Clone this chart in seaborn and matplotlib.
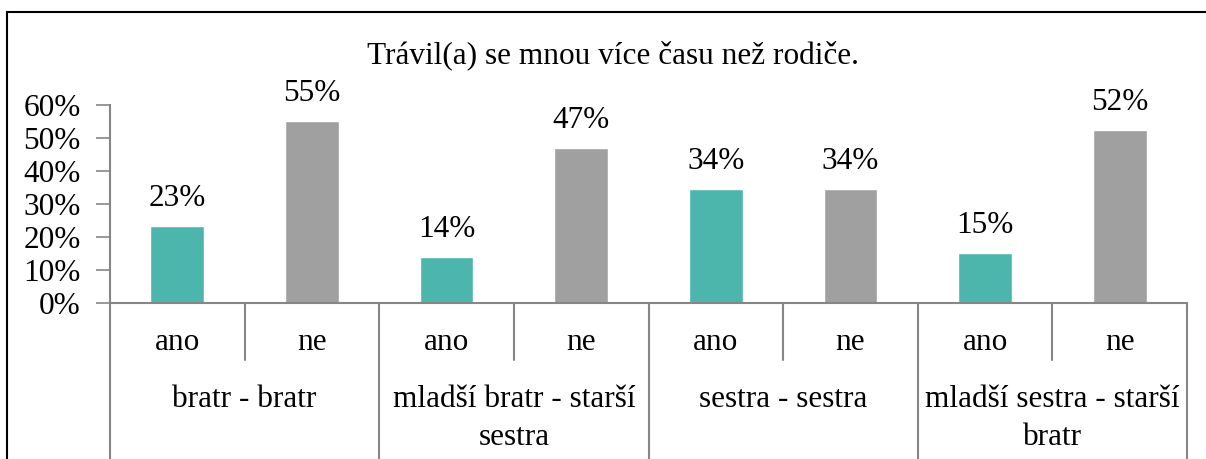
import matplotlib.pyplot as plt
import matplotlib.transforms as mtransforms
from matplotlib.patches import Rectangle
import seaborn as sns
import pandas as pd

# Data
groups = ['bratr - bratr', 'mladší bratr - starší\nsestra', 'sestra - sestra', 'mladší sestra - starší\nbratr']
answers = ['ano', 'ne']
ano_values = [0.233, 0.139, 0.345, 0.152]
ne_values = [0.552, 0.470, 0.345, 0.524]
title = 'Trávil(a) se mnou více času než rodiče.'

rows = []
for g, a, n in zip(groups, ano_values, ne_values):
    rows.append({'group': g, 'answer': 'ano', 'value': a})
    rows.append({'group': g, 'answer': 'ne', 'value': n})
df = pd.DataFrame(rows)
df['key'] = df['group'] + '|' + df['answer']

sns.set_style('white')
plt.rcParams['font.family'] = ['Liberation Serif', 'DejaVu Serif']
plt.rcParams['text.color'] = 'black'
plt.rcParams['ytick.labelcolor'] = 'black'

W, H = 1206, 459
FS = 22.5
fig = plt.figure(figsize=(W / 100, H / 100), dpi=100)
ax = fig.add_axes([110 / W, 1 - 303 / H, (1187 - 110) / W, (303 - 105) / H])

sns.barplot(data=df, x='key', y='value', hue='answer', palette={'ano': '#4DB6AC', 'ne': '#A0A0A0'},
            dodge=False, width=0.4, legend=False, ax=ax, saturation=1)

# value labels above bars
for i, v in enumerate(df['value']):
    ax.text(i, v + 0.040, f'{round(v * 100):.0f}%', ha='center', va='bottom', fontsize=FS, color='black')

ax.set_xlim(-0.5, len(df) - 0.5)
ax.set_ylim(0, 0.6)
ax.set_yticks([0, 0.1, 0.2, 0.3, 0.4, 0.5, 0.6])
ax.set_yticklabels([f'{int(round(t * 100))}%' for t in ax.get_yticks()], fontsize=FS)
ax.set_xticks([])
ax.set_xlabel('')
ax.set_ylabel('')
ax.tick_params(axis='y', length=10, width=1.2, color='#868686', pad=11, left=True, labelcolor='black')
for s in ['top', 'right']:
    ax.spines[s].set_visible(False)
for s in ['left', 'bottom']:
    ax.spines[s].set_color('#868686')
    ax.spines[s].set_linewidth(1.5)

# multi-level category axis
trans = mtransforms.blended_transform_factory(ax.transData, fig.transFigure)
y_axis = 1 - 303 / H
y_inner = 1 - 360 / H
for i in range(len(df) + 1):
    x = i - 0.5
    bottom = 0 if i % 2 == 0 else y_inner
    ax.plot([x, x], [y_axis, bottom], transform=trans, color='#868686', lw=1.5, clip_on=False)

for i, a in enumerate(df['answer']):
    ax.text(i, 1 - 342 / H, a, transform=trans, fontsize=FS, ha='center', va='center')

for j, g in enumerate(groups):
    ax.text(2 * j + 0.5, 1 - 385 / H, g, transform=trans, fontsize=FS, ha='center', va='top',
            linespacing=1.42)

fig.text(613 / W, 1 - 55 / H, title, fontsize=FS, ha='center', va='center')

# outer frame (cut off at right and bottom)
fig.patches.append(Rectangle((7 / W, -0.2), 1.2, 1.2 + (1 - 12 / H) - 1, transform=fig.transFigure,
                             fill=False, edgecolor='black', lw=1.5))

fig.savefig('out.png', dpi=100)
